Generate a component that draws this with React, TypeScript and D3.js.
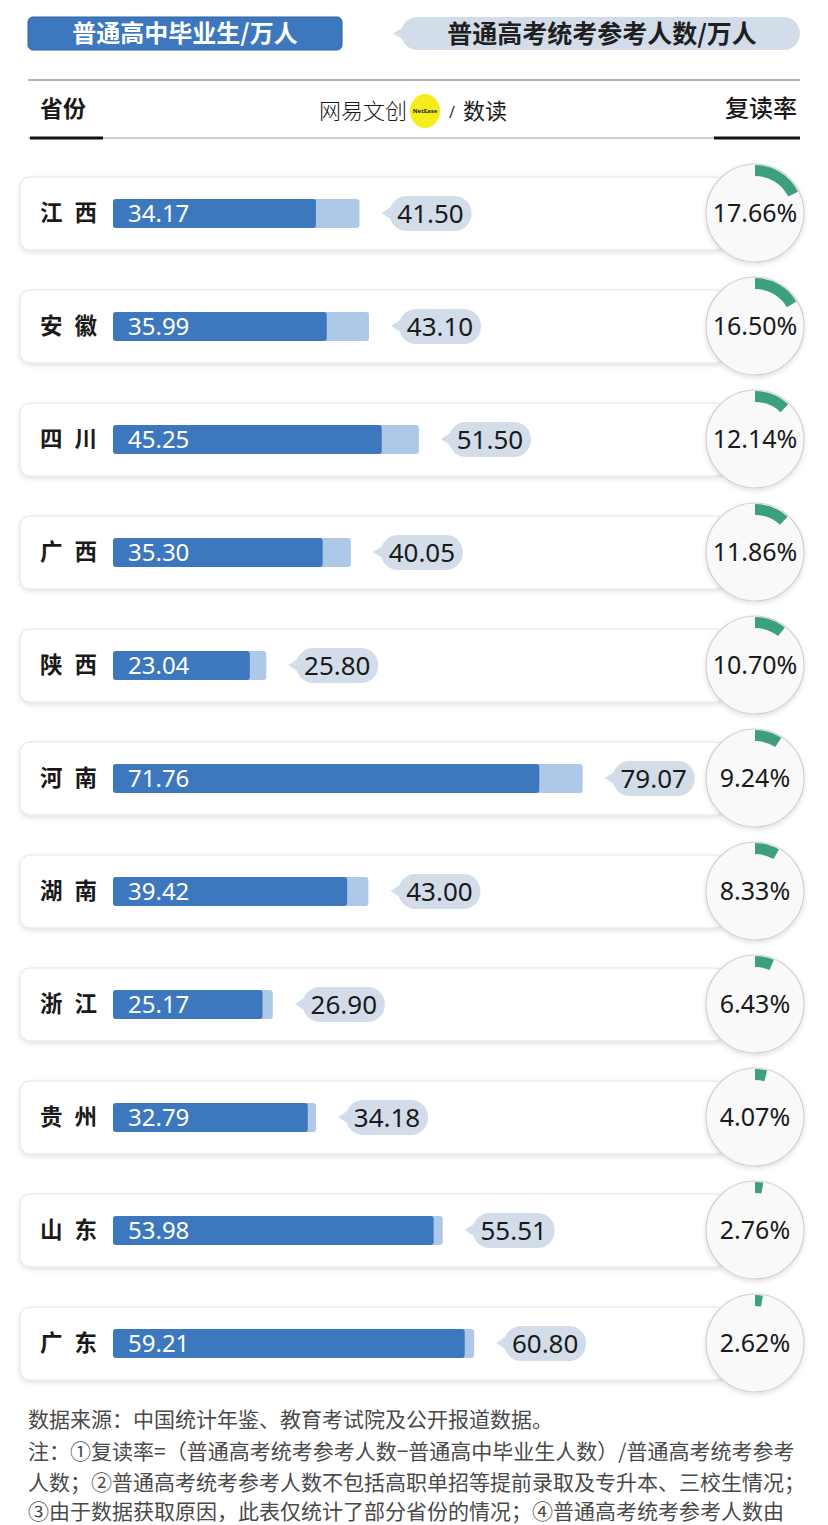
import { useEffect, useRef } from 'react'
import * as d3 from 'd3'

const PROVINCES = ['江西', '安徽', '四川', '广西', '陕西', '河南', '湖南', '浙江', '贵州', '山东', '广东']
const GRADUATES = [34.17, 35.99, 45.25, 35.3, 23.04, 71.76, 39.42, 25.17, 32.79, 53.98, 59.21]
const EXAMINEES = [41.5, 43.1, 51.5, 40.05, 25.8, 79.07, 43.0, 26.9, 34.18, 55.51, 60.8]
const RATES = [17.66, 16.5, 12.14, 11.86, 10.7, 9.24, 8.33, 6.43, 4.07, 2.76, 2.62]

const LEGEND = ['普通高中毕业生/万人', '普通高考统考参考人数/万人']
const NOTES = [
  '数据来源：中国统计年鉴、教育考试院及公开报道数据。',
  '注：①复读率=（普通高考统考参考人数−普通高中毕业生人数）/普通高考统考参考',
  '人数；②普通高考统考参考人数不包括高职单招等提前录取及专升本、三校生情况；',
  '③由于数据获取原因，此表仅统计了部分省份的情况；④普通高考统考参考人数由',
]

const CJK = '"Noto Sans CJK SC", "Noto Sans", sans-serif'
const NUM = '"Noto Sans", "Open Sans", sans-serif'
const DARK = '#3d78bf'
const LIGHT = '#aec8e8'
const BUBBLE = '#d2dde9'
const GREEN = '#3c9f7d'

export default function App() {
  const svgRef = useRef<SVGSVGElement>(null)

  useEffect(() => {
    if (!svgRef.current) return
    const W = 828
    const H = 1525
    const svg = d3.select(svgRef.current)
    svg.selectAll('*').remove()
    svg.attr('width', W).attr('height', H).attr('viewBox', `0 0 ${W} ${H}`)

    const defs = svg.append('defs')
    const f = defs.append('filter').attr('id', 'shadow')
      .attr('x', '-10%').attr('y', '-30%').attr('width', '120%').attr('height', '170%')
    f.append('feDropShadow')
      .attr('dx', 0).attr('dy', 2).attr('stdDeviation', 2.5)
      .attr('flood-color', '#000').attr('flood-opacity', 0.12)

    svg.append('rect').attr('width', W).attr('height', H).attr('fill', '#fff')

    // legend
    svg.append('rect')
      .attr('x', 28).attr('y', 17).attr('width', 314).attr('height', 33)
      .attr('rx', 5).attr('fill', DARK).attr('stroke', '#2f62a0').attr('stroke-width', 1)
    svg.append('text')
      .attr('x', 185).attr('y', 42).attr('text-anchor', 'middle')
      .attr('font-family', CJK).attr('font-size', 24).attr('font-weight', 700)
      .attr('fill', '#fff').text(LEGEND[0])

    const lp = d3.path()
    lp.moveTo(393, 33.5)
    lp.lineTo(404, 27)
    lp.lineTo(404, 40)
    lp.closePath()
    svg.append('path').attr('d', lp.toString()).attr('fill', BUBBLE)
    svg.append('rect')
      .attr('x', 401).attr('y', 17).attr('width', 399).attr('height', 33)
      .attr('rx', 16.5).attr('fill', BUBBLE)
    svg.append('text')
      .attr('x', 602).attr('y', 43).attr('text-anchor', 'middle')
      .attr('font-family', CJK).attr('font-size', 25).attr('font-weight', 700)
      .attr('fill', '#1f1f1f').text(LEGEND[1])

    // table header
    svg.append('line').attr('x1', 28).attr('x2', 800).attr('y1', 80).attr('y2', 80)
      .attr('stroke', '#9a9a9a').attr('stroke-width', 1.5)
    svg.append('line').attr('x1', 28).attr('x2', 800).attr('y1', 138).attr('y2', 138)
      .attr('stroke', '#bdbdbd').attr('stroke-width', 1.5)
    svg.append('line').attr('x1', 30).attr('x2', 103).attr('y1', 138).attr('y2', 138)
      .attr('stroke', '#111').attr('stroke-width', 3)
    svg.append('line').attr('x1', 714).attr('x2', 800).attr('y1', 138).attr('y2', 138)
      .attr('stroke', '#111').attr('stroke-width', 3)
    svg.append('text').attr('x', 40).attr('y', 117)
      .attr('font-family', CJK).attr('font-size', 23).attr('font-weight', 700)
      .attr('fill', '#1a1a1a').text('省份')
    svg.append('text').attr('x', 797).attr('y', 117).attr('text-anchor', 'end')
      .attr('font-family', CJK).attr('font-size', 24).attr('font-weight', 500)
      .attr('fill', '#1a1a1a').text('复读率')

    // brand
    svg.append('text').attr('x', 319).attr('y', 119)
      .attr('font-family', CJK).attr('font-size', 22).attr('font-weight', 300)
      .attr('fill', '#1a1a1a').text('网易文创')
    svg.append('ellipse').attr('cx', 425).attr('cy', 111).attr('rx', 15).attr('ry', 17)
      .attr('fill', '#f5ee1c')
    svg.append('text').attr('x', 425).attr('y', 113).attr('text-anchor', 'middle')
      .attr('font-family', NUM).attr('font-size', 6).attr('font-weight', 700)
      .attr('fill', '#222').text('NetEase')
    svg.append('text').attr('x', 449).attr('y', 118)
      .attr('font-family', NUM).attr('font-size', 16)
      .attr('fill', '#333').text('/')
    svg.append('text').attr('x', 463).attr('y', 119)
      .attr('font-family', CJK).attr('font-size', 22).attr('font-weight', 400)
      .attr('fill', '#1a1a1a').text('数读')

    // rows
    const x = d3.scaleLinear().domain([0, 100]).range([113, 707])
    const y = d3.scalePoint<string>().domain(PROVINCES).range([213, 1343])
    const arc = d3.arc<number>()
      .innerRadius(37).outerRadius(48)
      .startAngle(0)
      .endAngle((d) => (d / 100) * Math.PI * 2)

    PROVINCES.forEach((p, i) => {
      const cy = y(p) as number
      const g = svg.append('g')

      g.append('rect')
        .attr('x', 20).attr('y', cy - 36).attr('width', 705).attr('height', 73)
        .attr('rx', 10).attr('fill', '#fff').attr('stroke', '#e4e4e4')
        .attr('filter', 'url(#shadow)')

      g.append('text').attr('x', 40).attr('y', cy + 8)
        .attr('font-family', CJK).attr('font-size', 22.5).attr('font-weight', 700)
        .attr('letter-spacing', 12).attr('fill', '#1a1a1a').text(p)

      const bh = 29
      g.append('rect')
        .attr('x', x(0)).attr('y', cy - bh / 2 + 0.5)
        .attr('width', x(EXAMINEES[i]) - x(0)).attr('height', bh)
        .attr('rx', 3).attr('fill', LIGHT)
      g.append('rect')
        .attr('x', x(0)).attr('y', cy - bh / 2 + 0.5)
        .attr('width', x(GRADUATES[i]) - x(0)).attr('height', bh)
        .attr('rx', 3).attr('fill', DARK)
      g.append('text').attr('x', x(0) + 15).attr('y', cy + 9)
        .attr('font-family', NUM).attr('font-size', 24)
        .attr('fill', '#fff').text(GRADUATES[i].toFixed(2))

      // bubble with tail
      const tip = x(EXAMINEES[i]) + 22
      const bl = tip + 8
      const bw = 82
      const tail = d3.path()
      tail.moveTo(tip, cy)
      tail.lineTo(bl + 6, cy - 9)
      tail.lineTo(bl + 6, cy + 9)
      tail.closePath()
      g.append('path').attr('d', tail.toString()).attr('fill', BUBBLE)
      g.append('rect')
        .attr('x', bl).attr('y', cy - 17).attr('width', bw).attr('height', 35)
        .attr('rx', 17).attr('fill', BUBBLE)
      g.append('text').attr('x', bl + bw / 2).attr('y', cy + 9.5).attr('text-anchor', 'middle')
        .attr('font-family', NUM).attr('font-size', 26)
        .attr('fill', '#1a1a1a').text(EXAMINEES[i].toFixed(2))

      // rate circle
      const c = g.append('g').attr('transform', `translate(755,${cy})`)
      c.append('circle').attr('r', 49).attr('fill', '#f9f9f9')
        .attr('stroke', '#cfcfcf').attr('stroke-width', 1.2)
        .attr('filter', 'url(#shadow)')
      c.append('path').attr('d', arc(RATES[i]) as string).attr('fill', GREEN)
      c.append('text').attr('y', 9).attr('text-anchor', 'middle')
        .attr('font-family', NUM).attr('font-size', 25)
        .attr('fill', '#1a1a1a').text(`${RATES[i].toFixed(2)}%`)
    })

    // notes
    const noteY = [1427, 1459, 1490, 1519]
    NOTES.forEach((t, i) => {
      svg.append('text').attr('x', 28).attr('y', noteY[i])
        .attr('font-family', CJK).attr('font-size', 21).attr('font-weight', 400)
        .attr('fill', '#4a4a4a').text(t)
    })
  }, [])

  return (
    <div style={{ position: 'absolute', left: 0, top: 0 }}>
      <svg ref={svgRef} style={{ display: 'block' }} />
    </div>
  )
}
